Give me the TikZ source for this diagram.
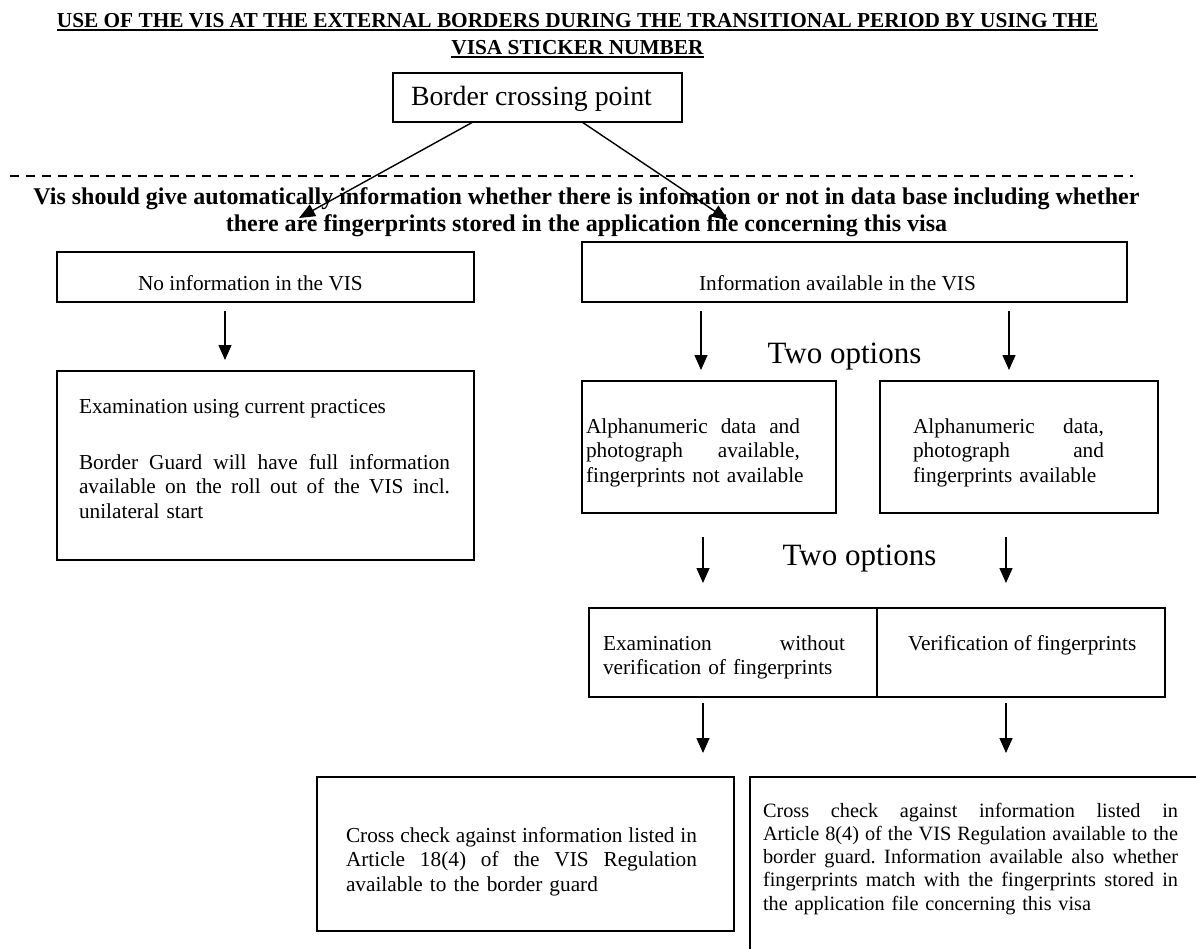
\documentclass[tikz,border=0pt]{standalone}
\usepackage{fontspec}
\setmainfont{Liberation Serif}
\usetikzlibrary{arrows.meta}
\newcommand\jline[2]{\makebox[#1][s]{\spaceskip=0pt\relax\xspaceskip=0pt\relax #2}}
\begin{document}
\frenchspacing
\begin{tikzpicture}[x=1pt,y=-1pt,
  box/.style={draw, line width=1.8pt, inner sep=0pt, outer sep=0pt, anchor=north west},
  txt/.style={inner sep=0pt, outer sep=0pt, anchor=base west},
  ctxt/.style={inner sep=0pt, outer sep=0pt, anchor=base},
  body/.style={font=\fontsize{21.3pt}{24.6pt}\selectfont},
  small/.style={font=\fontsize{20.3pt}{23.3pt}\selectfont},
  ttl/.style={font=\bfseries\fontsize{21.3pt}{24pt}\selectfont},
  boldtxt/.style={font=\bfseries\fontsize{24pt}{27pt}\selectfont},
  big/.style={font=\fontsize{31pt}{36pt}\selectfont},
  arr/.style={line width=1.4pt, -{Triangle[length=15pt,width=13pt]}},
  darr/.style={line width=1.4pt, -{Triangle[length=16pt,width=13pt]}},
  uline/.style={line width=2pt},
  dline/.style={line width=1.8pt, dash pattern=on 9pt off 7pt}
]
\useasboundingbox (0,0) rectangle (1196,948);
\clip (0,0) rectangle (1196,948);

% title
\node[ctxt, ttl] (title1) at (577.5,27) {USE OF THE VIS AT THE EXTERNAL BORDERS DURING THE TRANSITIONAL PERIOD BY USING THE};
\node[ctxt, ttl] (title2) at (577.5,54) {VISA STICKER NUMBER};
\draw[uline] ([yshift=-3pt]title1.base west) -- ([yshift=-3pt]title1.base east);
\draw[uline] ([yshift=-3pt]title2.base west) -- ([yshift=-3pt]title2.base east);

% border crossing point
\node[box, minimum width=289pt, minimum height=49pt] (bcp) at (393,73) {};
\node[txt, font=\fontsize{27.8pt}{32pt}\selectfont] (bcpT) at (411,105) {Border crossing point};

% dashed line
\coordinate (d1) at (10,176);
\coordinate (d2) at (1133,176);
\draw[dline] (d1) -- (d2);

% bold statement
\node[ctxt, boldtxt] (vis1) at (586.5,204) {Vis should give automatically information whether there is infomation or not in data base including whether};
\node[ctxt, boldtxt] (vis2) at (586.5,231) {there are fingerprints stored in the application file concerning this visa};

% diagonal connectors
\coordinate (t1) at (299,218);
\coordinate (t2) at (728,220);
\draw[darr] ([xshift=-64.5pt]bcp.south) -- (t1);
\draw[darr] ([xshift=44.5pt]bcp.south) -- (t2);

% left column
\node[box, minimum width=417pt, minimum height=50pt] (noinfo) at (57,252) {};
\node[txt, body] (noinfoT) at (138,290) {No information in the VIS};
\node[box, minimum width=417pt, minimum height=189pt] (examL) at (57,371) {};
\node[txt, body] (examLT1) at (79,413) {Examination using current practices};
\node[txt, body, text width=371pt] (examLT2) at (79,469) {%
\jline{371pt}{Border Guard will have full information}\\
\jline{371pt}{available on the roll out of the VIS incl.}\\
unilateral start};
\draw[arr, shorten <=9pt, shorten >=11pt] ([xshift=-40.5pt]noinfo.south) -- ([xshift=-40.5pt]noinfo.south |- examL.north);

% right column
\node[box, minimum width=545pt, minimum height=60pt] (info) at (582,242) {};
\node[txt, body] (infoT) at (699,290) {Information available in the VIS};
\node[ctxt, big] (two1) at (844.5,363) {Two options};

\node[box, minimum width=254pt, minimum height=132pt] (alpha1) at (582,381) {};
\node[txt, body, text width=214pt] (alpha1T) at (586,433) {%
\jline{214pt}{Alphanumeric data and}\\
\jline{214pt}{photograph available,}\\
\mbox{fingerprints not available}};
\node[box, minimum width=278pt, minimum height=132pt] (alpha2) at (880,381) {};
\node[txt, body, text width=191pt] (alpha2T) at (913,433) {%
\jline{191pt}{Alphanumeric data,}\\
\jline{191pt}{photograph and}\\
\mbox{fingerprints available}};

\draw[arr, shorten <=9pt, shorten >=11pt] ([xshift=-8pt]alpha1.north |- info.south) -- ([xshift=-8pt]alpha1.north);
\draw[arr, shorten <=9pt, shorten >=11pt] ([xshift=-10pt]alpha2.north |- info.south) -- ([xshift=-10pt]alpha2.north);

\node[ctxt, big] (two2) at (859.5,565) {Two options};

\node[box, minimum width=288pt, minimum height=89pt] (exam) at (589,608) {};
\node[txt, body, text width=242pt] (examT) at (603,650) {%
\jline{242pt}{Examination without}\\
\mbox{verification of fingerprints}};
\node[box, minimum width=288pt, minimum height=89pt] (verif) at (877,608) {};
\node[txt, body] (verifT) at (908,650) {Verification of fingerprints};

\draw[arr, shorten <=24pt, shorten >=25pt] ([xshift=-6pt]alpha1.south) -- ([xshift=-6pt]alpha1.south |- exam.north);
\draw[arr, shorten <=24pt, shorten >=25pt] ([xshift=-13pt]alpha2.south) -- ([xshift=-13pt]alpha2.south |- verif.north);

\node[box, minimum width=417pt, minimum height=154pt] (crossL) at (317,777) {};
\node[txt, body, text width=351pt] (crossLT) at (346,842) {%
\jline{351pt}{Cross check against information listed in}\\
\jline{351pt}{Article 18(4) of the VIS Regulation}\\
\mbox{available to the border guard}};
\node[box, minimum width=470pt, minimum height=190pt] (crossR) at (750,777) {};
\node[txt, small, text width=415pt] (crossRT) at (763,817) {%
\jline{415pt}{Cross check against information listed in}\\
\jline{415pt}{Article 8(4) of the VIS Regulation available to the}\\
\jline{415pt}{border guard. Information available also whether}\\
\jline{415pt}{fingerprints match with the fingerprints stored in}\\
\mbox{the application file concerning this visa}};

\draw[arr, shorten <=6pt, shorten >=24pt] ([xshift=-30pt]exam.south) -- ([xshift=-30pt]exam.south |- crossL.north);
\draw[arr, shorten <=6pt, shorten >=24pt] ([xshift=-15pt]verif.south) -- ([xshift=-15pt]verif.south |- crossR.north);
\end{tikzpicture}
\end{document}
